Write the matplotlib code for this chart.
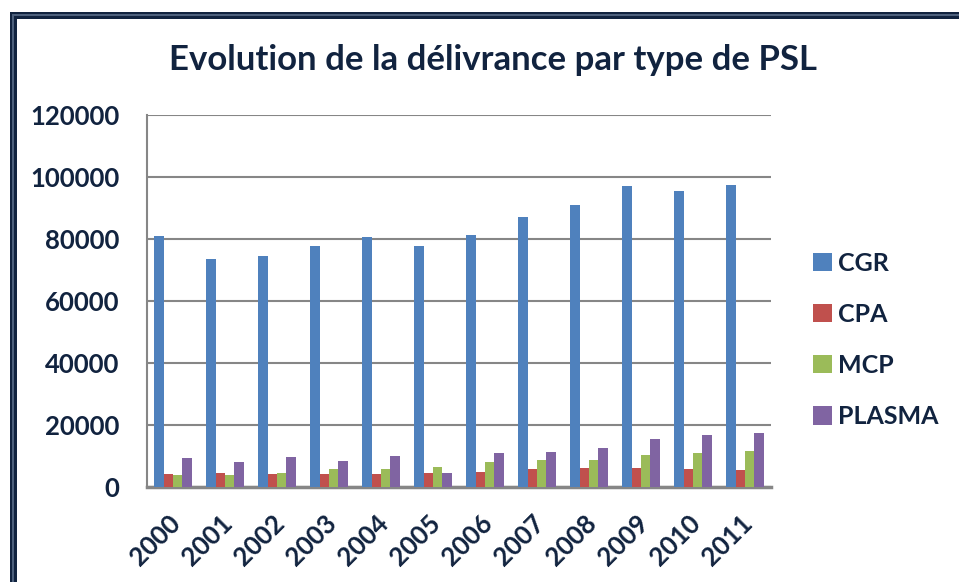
import matplotlib.pyplot as plt
import matplotlib.patches as mpatches
import matplotlib.transforms as mtransforms
import numpy as np

# Délivrance par type de PSL, 2000-2011
years = ["2000", "2001", "2002", "2003", "2004", "2005",
         "2006", "2007", "2008", "2009", "2010", "2011"]
cgr = [81000, 73600, 74600, 77800, 80700, 77800, 81400, 87200, 91000, 97200, 95600, 97500]
cpa = [4200, 4500, 4200, 4200, 4200, 4500, 4800, 5800, 6100, 6100, 5800, 5500]
mcp = [3900, 3900, 4500, 5800, 5800, 6700, 8300, 8900, 8900, 10500, 11200, 11800]
plasma = [9600, 8300, 9900, 8600, 10200, 4500, 11200, 11500, 12700, 15600, 16800, 17500]

series_names = ["CGR", "CPA", "MCP", "PLASMA"]
colors = ["#4F81BD", "#C0504D", "#9BBB59", "#8064A2"]
text_color = "#11233F"

plt.rcParams['font.family'] = ['Lato', 'DejaVu Sans']
plt.rcParams['font.weight'] = 'bold'

fig = plt.figure(figsize=(9.59, 5.82), dpi=100)
ax = fig.add_axes([0.1533, 0.1627, 0.6507, 0.6397])

# excel style: gap width 150% -> 4 bars + 1.5 bar gap per category
x = np.arange(len(years))
w = 1 / 5.5
for i, (vals, name, col) in enumerate(zip([cgr, cpa, mcp, plasma], series_names, colors)):
    ax.bar(x + (i - 1.5) * w, vals, width=w, color=col, label=name, zorder=3)

ax.set_xlim(-0.5, len(years) - 0.5)
ax.set_ylim(0, 120000)
ax.set_yticks(np.arange(0, 120001, 20000))
ax.yaxis.grid(True, color="#868686", linewidth=1.5, zorder=0)
ax.set_axisbelow(True)

for s in ["top", "right"]:
    ax.spines[s].set_visible(False)
ax.spines["left"].set_color("#868686")
ax.spines["left"].set_linewidth(1.5)
ax.spines["bottom"].set_color("#868686")
ax.spines["bottom"].set_linewidth(2.5)
ax.tick_params(length=0, labelsize=18.5, labelcolor=text_color, pad=20)
ax.tick_params(axis="x", pad=17)
ax.set_xticks(x)
ax.set_xticklabels(years, rotation=45, ha="right", va="top", rotation_mode="anchor")
for lbl in ax.get_xticklabels():
    lbl.set_transform(lbl.get_transform() + mtransforms.ScaledTranslation(-0.05, 0, fig.dpi_scale_trans))

fig.text(0.514, 0.897, "Evolution de la délivrance par type de PSL",
         ha="center", va="center", fontsize=25, color=text_color, fontweight="bold")

leg = fig.legend(loc="center left", bbox_to_anchor=(0.848, 0.416), frameon=False,
                 fontsize=18, labelspacing=1.13, handlelength=0.75, handleheight=0.75,
                 handletextpad=0.25, borderpad=0, borderaxespad=0)
for t in leg.get_texts():
    t.set_color(text_color)

# double-line chart frame, running off the right and bottom edges
frame = mpatches.Rectangle((12.5, -20), 1000, 582 - 14.5 + 20, transform=None,
                           fill=False, edgecolor="#11233F", linewidth=7 * 72 / 100)
inner = mpatches.Rectangle((12.5, -20), 1000, 582 - 14.5 + 20, transform=None,
                           fill=False, edgecolor="#4D607C", linewidth=2 * 72 / 100)
fig.patches.extend([frame, inner])

fig.savefig("out.png", dpi=100)
